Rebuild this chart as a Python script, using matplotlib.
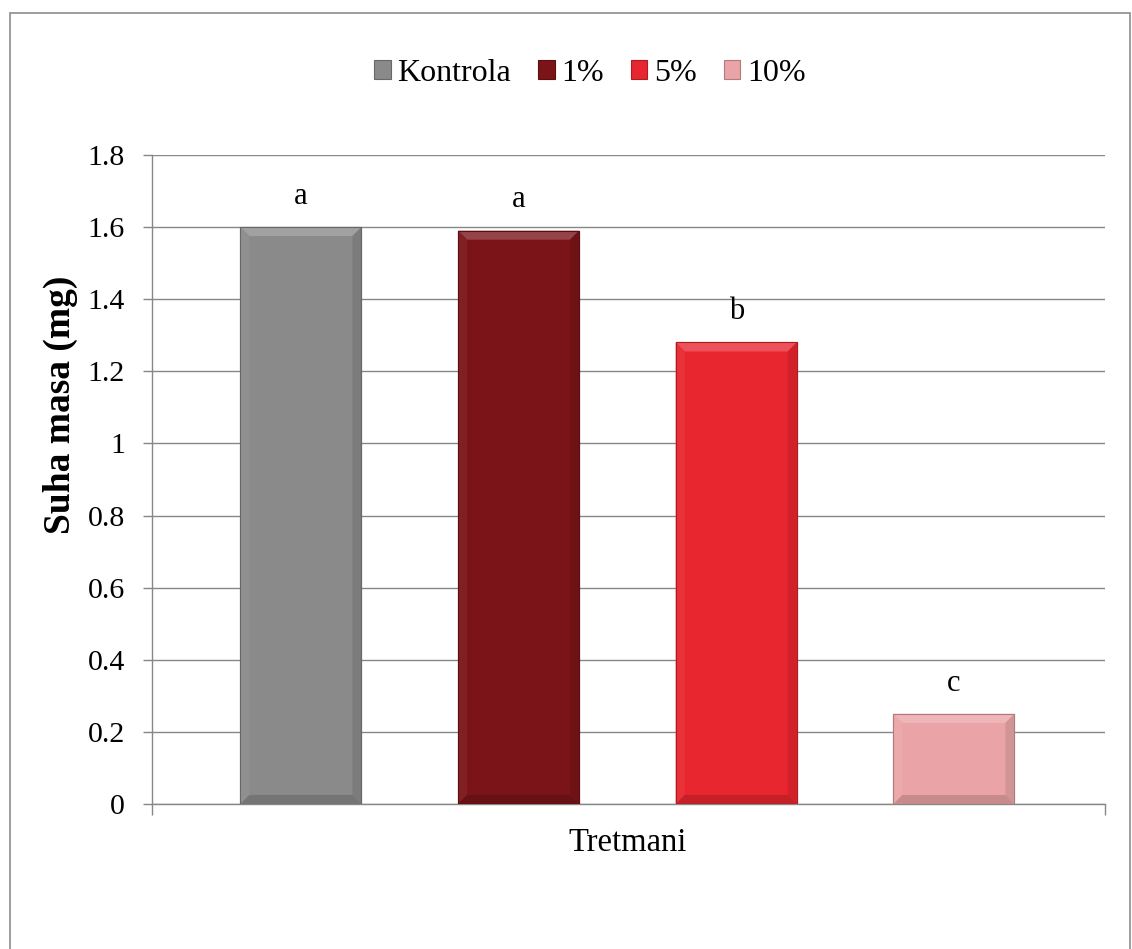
import matplotlib
matplotlib.use("Agg")
import matplotlib.pyplot as plt
import numpy as np
from matplotlib.patches import Rectangle, Polygon
import matplotlib.colors as mcolors

plt.rcParams['font.family'] = ['Liberation Serif', 'DejaVu Serif']

category = ["Tretmani"]
series = ["Kontrola", "1%", "5%", "10%"]
values = [1.60, 1.59, 1.28, 0.25]
letters = ["a", "a", "b", "c"]
colors = ["#8a8a8a", "#7a1418", "#e8262f", "#eaa4a7"]
yticks = [0, 0.2, 0.4, 0.6, 0.8, 1, 1.2, 1.4, 1.6, 1.8]
ytick_labels = ["0", "0.2", "0.4", "0.6", "0.8", "1", "1.2", "1.4", "1.6", "1.8"]

W, H = 1132, 949
fig = plt.figure(figsize=(W / 100, H / 100), dpi=100)
ax = fig.add_axes([0.1343, 0.1528, 0.9761 - 0.1343, 0.8367 - 0.1528])

grid_c = "#878787"
x = np.arange(len(series))
bw = 0.556
xlim = (-0.684, 3.694)
ylim = (0, 1.8)
ax.set_xlim(*xlim)
ax.set_ylim(*ylim)

# pixel -> data scale for bevel styling
ax_w_px = (0.9761 - 0.1343) * W
ax_h_px = (0.8367 - 0.1528) * H
dxp = (xlim[1] - xlim[0]) / ax_w_px
dyp = (ylim[1] - ylim[0]) / ax_h_px
bev = 9


def shade(c, f):
    r = np.array(mcolors.to_rgb(c))
    if f >= 0:
        r = r + (1 - r) * f
    else:
        r = r * (1 + f)
    return tuple(np.clip(r, 0, 1))


handles = []
for i, (s, v) in enumerate(zip(series, values)):
    b = ax.bar(x[i], v, width=bw, color=colors[i], edgecolor=shade(colors[i], -0.25),
               linewidth=0.8, label=s, zorder=3)
    handles.append(b)
    x0, x1 = x[i] - bw / 2, x[i] + bw / 2
    y0, y1 = 0, v
    bx, by = bev * dxp, bev * dyp
    by = min(by, v / 3)
    ax.add_patch(Polygon([(x0, y1), (x1, y1), (x1 - bx, y1 - by), (x0 + bx, y1 - by)],
                         closed=True, facecolor=shade(colors[i], 0.2), edgecolor="none", zorder=3.5))
    ax.add_patch(Polygon([(x0, y0), (x0, y1), (x0 + bx, y1 - by), (x0 + bx, y0 + by)],
                         closed=True, facecolor=shade(colors[i], 0.05), edgecolor="none", zorder=3.5))
    ax.add_patch(Polygon([(x1, y0), (x1, y1), (x1 - bx, y1 - by), (x1 - bx, y0 + by)],
                         closed=True, facecolor=shade(colors[i], -0.1), edgecolor="none", zorder=3.5))
    ax.add_patch(Polygon([(x0, y0), (x1, y0), (x1 - bx, y0 + by), (x0 + bx, y0 + by)],
                         closed=True, facecolor=shade(colors[i], -0.15), edgecolor="none", zorder=3.5))
    ax.add_patch(Rectangle((x0, y0), bw, v, fill=False, edgecolor=shade(colors[i], -0.25),
                           linewidth=0.8, zorder=3.6))
    ax.text(x[i], v + 0.045, letters[i], ha="center", va="bottom", fontsize=22, zorder=4)

ax.set_yticks(yticks)
ax.set_yticklabels(ytick_labels, fontsize=21.5)
ax.yaxis.grid(True, color=grid_c, linewidth=1.0, zorder=0)
ax.set_axisbelow(True)
ax.tick_params(axis="y", direction="out", length=6.5, width=1.0, color=grid_c, pad=13)

ax.set_xticks([xlim[0], xlim[1]])
ax.set_xticklabels(["", ""])
ax.set_xticks([1.5], minor=True)
ax.set_xticklabels(category, minor=True, fontsize=23.5)
ax.tick_params(axis="x", which="major", direction="out", length=8, width=1.0, color=grid_c)
ax.tick_params(axis="x", which="minor", length=0, pad=17)

for sp in ["top", "right"]:
    ax.spines[sp].set_visible(False)
for sp in ["left", "bottom"]:
    ax.spines[sp].set_color(grid_c)
    ax.spines[sp].set_linewidth(1.0)

ax.set_ylabel("Suha masa (mg)", fontsize=27, fontweight="bold")
ax.yaxis.set_label_coords(-0.078, 0.615)

fig.legend(handles=handles, labels=series, loc="center", bbox_to_anchor=(0.521, 0.923),
           ncol=4, frameon=False, fontsize=23, handlelength=0.52, handleheight=0.52,
           handletextpad=0.2, columnspacing=0.85)

fig.patches.append(Rectangle((10 / W, -0.05), (1130 - 10) / W, 1.05 - 13 / H,
                             transform=fig.transFigure, fill=False,
                             edgecolor="#8c8c8c", linewidth=1.2, clip_on=False))

fig.savefig("out.png", dpi=100)
